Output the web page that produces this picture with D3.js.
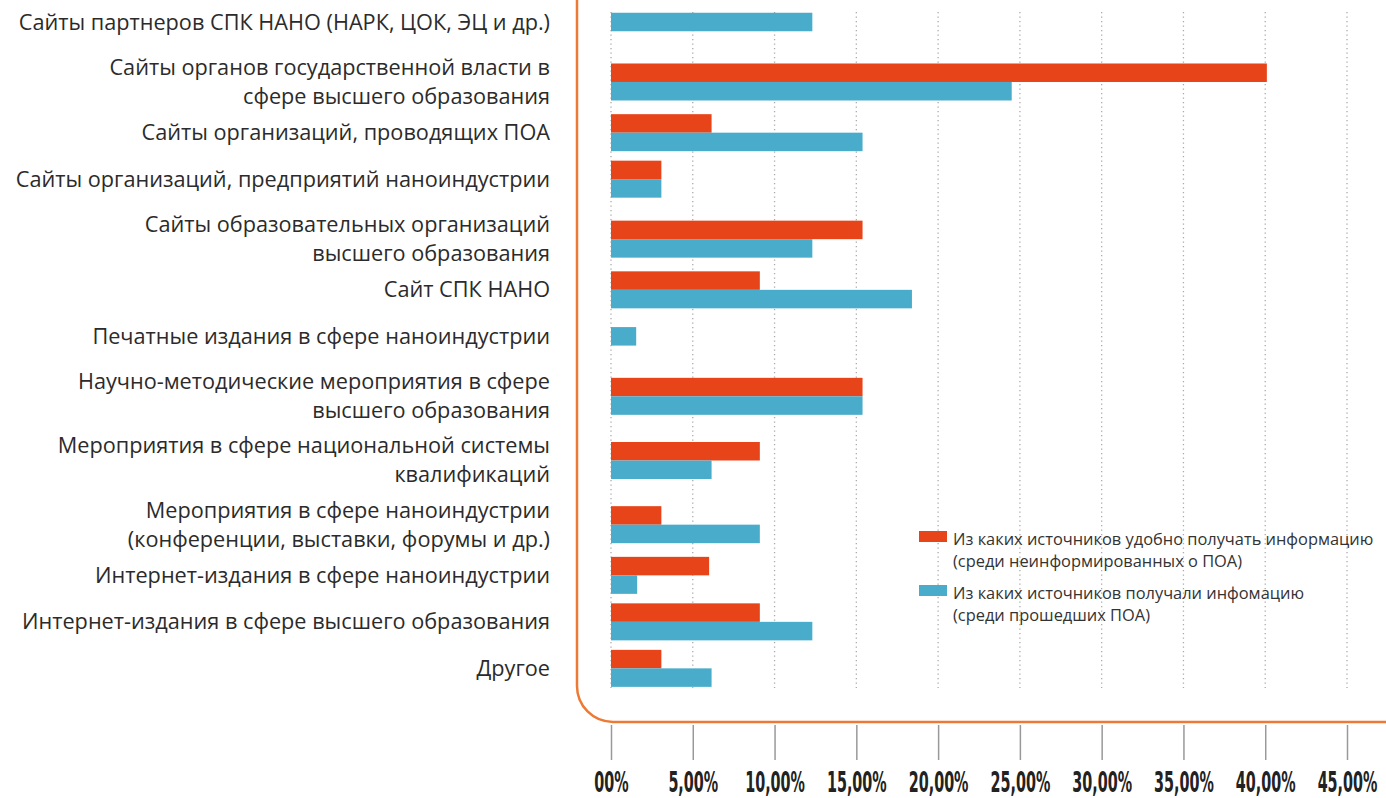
<!DOCTYPE html>
<html>
<head>
<meta charset="utf-8">
<script src="https://cdn.jsdelivr.net/npm/d3@7"></script>
<style>
  body { margin: 0; background: #fff; }
  svg { display: block; }
</style>
</head>
<body>
<div id="chart"></div>
<script>
// categories (line breaks as in the picture)
var categories = [
  "Сайты партнеров СПК НАНО (НАРК, ЦОК, ЭЦ и др.)",
  "Сайты органов государственной власти в\nсфере высшего образования",
  "Сайты организаций, проводящих ПОА",
  "Сайты организаций, предприятий наноиндустрии",
  "Сайты образовательных организаций\nвысшего образования",
  "Сайт СПК НАНО",
  "Печатные издания в сфере наноиндустрии",
  "Научно-методические мероприятия в сфере\nвысшего образования",
  "Мероприятия в сфере национальной системы\nквалификаций",
  "Мероприятия в сфере наноиндустрии\n(конференции, выставки, форумы и др.)",
  "Интернет-издания в сфере наноиндустрии",
  "Интернет-издания в сфере высшего образования",
  "Другое"
];

// % values
var convenient = [0, 40.1, 6.15, 3.08, 15.38, 9.1, 0, 15.38, 9.1, 3.08, 6.0, 9.1, 3.08];
var received = [12.31, 24.5, 15.38, 3.08, 12.31, 18.4, 1.54, 15.38, 6.15, 9.1, 1.6, 12.31, 6.15];

var seriesNames = [
  "Из каких источников удобно получать информацию\n(среди неинформированных о ПОА)",
  "Из каких источников получали инфомацию\n(среди прошедших ПОА)"
];
var tickValues = [0, 5, 10, 15, 20, 25, 30, 35, 40, 45];

var colors = ["#e8441a", "#49acca"];

var width = 1386, height = 798;
var svg = d3.select("#chart").append("svg")
  .attr("width", width)
  .attr("height", height);

var x = d3.scaleLinear().domain([0, 45]).range([611, 1347]);

// rows get more room when the label wraps on two lines
var rows = categories.map(function(c) { return c.split("\n"); });
var above = rows.map(function(r) { return 0.5 + 0.29 * (r.length - 1); });
var below = rows.map(function(r) { return 0.5 + 0.09 * (r.length - 1); });
var total = d3.sum(above) + d3.sum(below);
var y = d3.scaleLinear().domain([0, total]).range([-1.25, -1.25 + total * 46.5]);
var centers = [];
var acc = 0;
rows.forEach(function(r, i) {
  centers.push(y(acc + above[i]));
  acc += above[i] + below[i];
});

// orange frame
svg.append("rect")
  .attr("x", 577).attr("y", -40)
  .attr("width", 900).attr("height", 762)
  .attr("rx", 36).attr("ry", 36)
  .attr("fill", "none")
  .attr("stroke", "#ec7a35")
  .attr("stroke-width", 2.5);

// dotted gridlines
svg.append("g").selectAll("line")
  .data(tickValues)
  .enter().append("line")
  .attr("x1", function(d) { return x(d); })
  .attr("x2", function(d) { return x(d); })
  .attr("y1", 12).attr("y2", 688)
  .attr("stroke", "#aaa")
  .attr("stroke-width", 1.3)
  .attr("stroke-dasharray", "1.3,3.2");

// bars
var barH = 18.5;
var g = svg.append("g");
categories.forEach(function(c, i) {
  var cy = centers[i];
  if (convenient[i] > 0) {
    g.append("rect")
      .attr("x", x(0)).attr("y", cy - barH)
      .attr("width", x(convenient[i]) - x(0)).attr("height", barH)
      .attr("fill", colors[0]);
    g.append("rect")
      .attr("x", x(0)).attr("y", cy)
      .attr("width", x(received[i]) - x(0)).attr("height", barH)
      .attr("fill", colors[1]);
  } else {
    g.append("rect")
      .attr("x", x(0)).attr("y", cy - barH / 2)
      .attr("width", x(received[i]) - x(0)).attr("height", barH)
      .attr("fill", colors[1]);
  }
});

// category labels
var lineH = 29;
var labels = svg.append("g")
  .attr("font-family", "'Open Sans', sans-serif")
  .attr("font-size", 21.7)
  .attr("fill", "#2b2b2b")
  .attr("text-anchor", "end");
rows.forEach(function(r, i) {
  var t = labels.append("text");
  r.forEach(function(line, j) {
    t.append("tspan")
      .attr("x", 550)
      .attr("y", centers[i] - (r.length - 1) * lineH / 2 + j * lineH + 7.5)
      .text(line);
  });
});

// legend
var legend = svg.append("g")
  .attr("font-family", "'Open Sans', sans-serif")
  .attr("font-size", 16.4)
  .attr("fill", "#333");
seriesNames.forEach(function(name, i) {
  var ly = 531 + i * 54;
  legend.append("rect")
    .attr("x", 919).attr("y", ly)
    .attr("width", 28).attr("height", 11)
    .attr("fill", colors[i]);
  var t = legend.append("text");
  name.split("\n").forEach(function(line, j) {
    t.append("tspan")
      .attr("x", 953)
      .attr("y", ly + 14 + j * 21.5)
      .text(line);
  });
});

// bottom axis
var fmt = function(d) {
  return d === 0 ? "00%" : d3.format(".2f")(d).replace(".", ",") + "%";
};
var axis = svg.append("g")
  .attr("transform", "translate(0,725)")
  .call(d3.axisBottom(x).tickValues(tickValues).tickSize(35).tickFormat(fmt));
axis.select(".domain").remove();
axis.selectAll(".tick line")
  .attr("stroke", "#999")
  .attr("stroke-width", 1.5);
axis.selectAll(".tick text")
  .attr("y", 67.5)
  .attr("dy", 0)
  .attr("transform", "scale(0.56,1)")
  .attr("font-family", "'DejaVu Sans Condensed', sans-serif")
  .attr("font-weight", "bold")
  .attr("font-size", 28.5)
  .attr("fill", "#222");
</script>
</body>
</html>
